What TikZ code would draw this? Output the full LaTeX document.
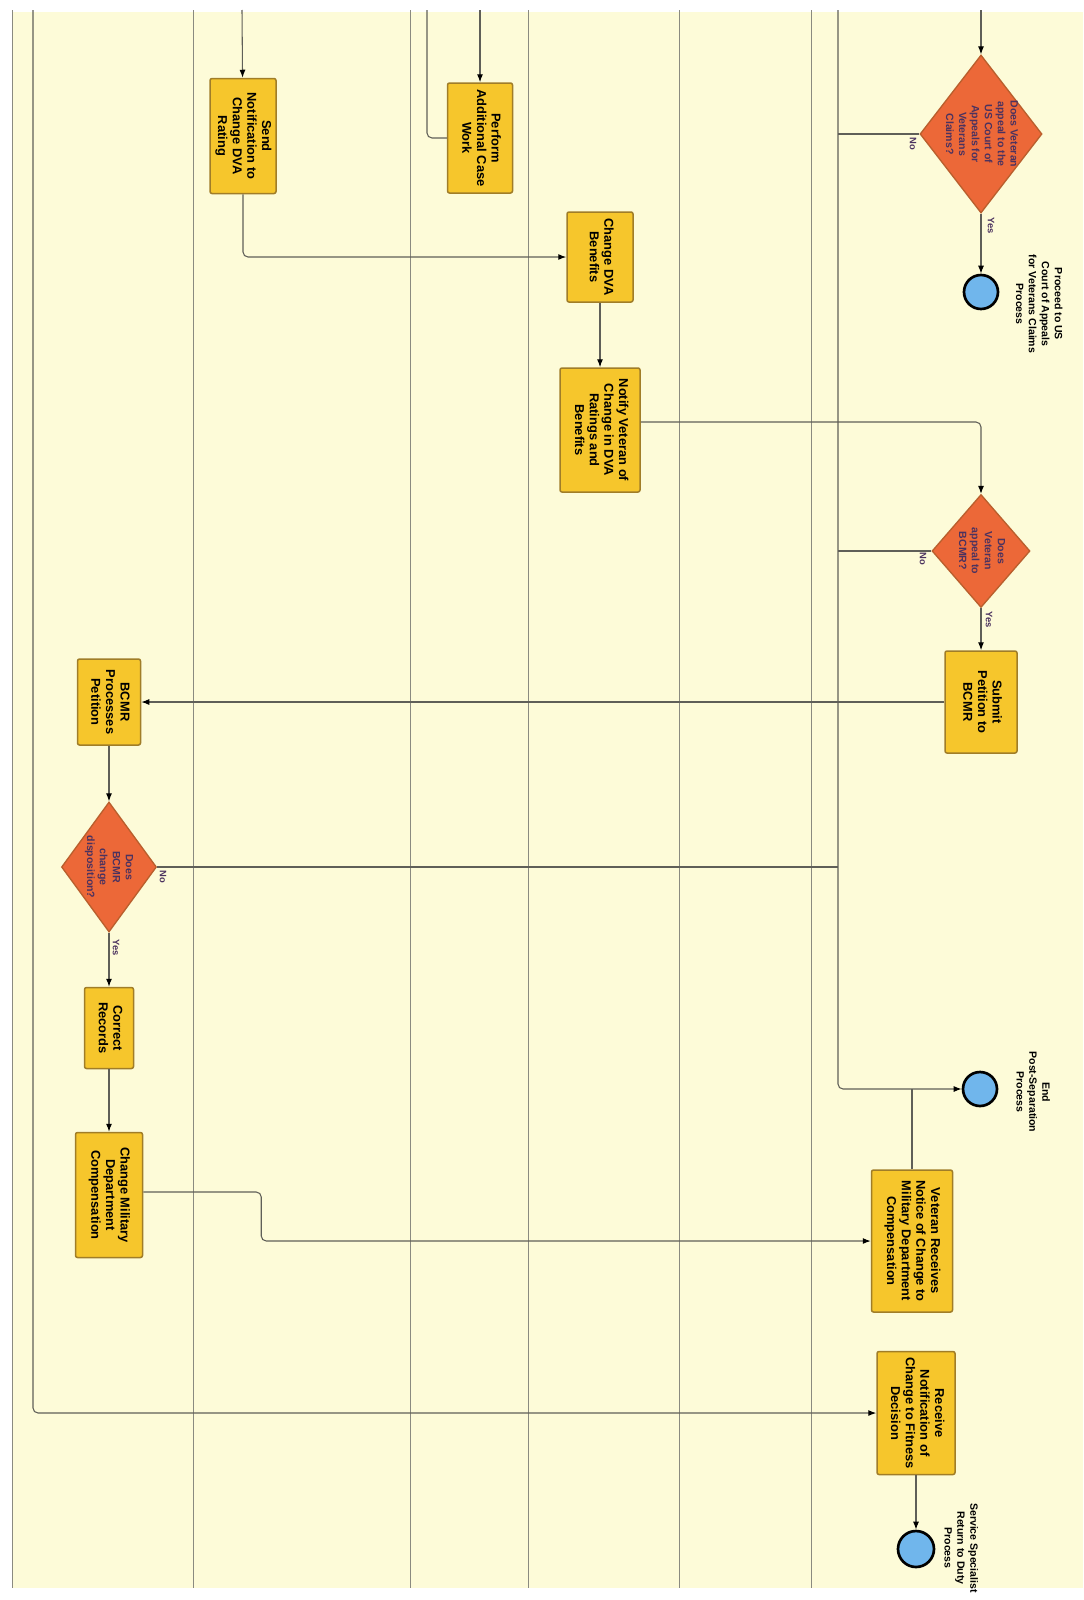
\documentclass[tikz,border=0pt]{standalone}
\usepackage{fontspec}
\setmainfont{Liberation Sans}
\usepackage{graphicx}
\usetikzlibrary{arrows.meta, shapes.geometric, positioning}
\definecolor{paperyellow}{RGB}{253,251,216}
\definecolor{taskgold}{RGB}{246,198,44}
\definecolor{taskedge}{RGB}{160,125,40}
\definecolor{gateorange}{RGB}{236,104,56}
\definecolor{gateedge}{RGB}{185,95,45}
\definecolor{gatetext}{RGB}{75,50,95}
\definecolor{eventblue}{RGB}{112,182,236}
\definecolor{flowgray}{RGB}{95,95,88}
\definecolor{lanegray}{RGB}{138,138,128}

\newcommand{\vtext}[1]{\rotatebox{-90}{\begin{tabular}{@{}c@{}}#1\end{tabular}}}

\tikzset{
  task/.style={draw=taskedge, fill=taskgold, line width=0.45mm, rounded corners=0.6mm,
    inner sep=0pt, font=\fontsize{11}{12.5}\selectfont\bfseries},
  gate/.style={shape=diamond, draw=gateedge, fill=gateorange, line width=0.4mm, inner sep=0pt},
  gatetxt/.style={text=gatetext, inner sep=0pt, font=\fontsize{9}{11}\selectfont\bfseries},
  event/.style={circle, draw=black, fill=eventblue, line width=0.8mm, minimum size=10.2mm, inner sep=0pt},
  evlabel/.style={inner sep=0pt, font=\fontsize{9}{11}\selectfont\bfseries},
  answer/.style={text=gatetext, inner sep=0pt, font=\fontsize{8}{9}\selectfont\bfseries},
  flow/.style={draw=flowgray, line width=0.32mm, rounded corners=1.5mm,
    -{Latex[length=2.4mm,width=1.8mm,color=black]}},
  link/.style={draw=flowgray, line width=0.32mm, rounded corners=1.5mm},
  lane/.style={draw=lanegray, line width=0.25mm},
}

\begin{document}
\begin{tikzpicture}[x=0.3mm, y=-0.3mm]
  \useasboundingbox (0,0) rectangle (1083,1600);
  \fill[paperyellow] (12,12) rectangle (1083,1588);
  % lanes
  \foreach \x in {12,193,410,528,679,811}
    \draw[lane] (\x,10) -- (\x,1588);
  % off-page entries
  \coordinate (inrecv) at (33,10);
  \coordinate (insend) at (242,10);
  \coordinate (outperf) at (427,10);
  \coordinate (inperf) at (480,10);
  \coordinate (inpost) at (838,10);
  \coordinate (incourt) at (981,10);

  % tasks
  \node[task, minimum width=19.8mm, minimum height=34.5mm] (sendnote) at (243,136)
    {\vtext{Send\\Notification to\\Change DVA\\Rating}};
  \node[task, minimum width=19.5mm, minimum height=33mm] (perform) at (480,138)
    {\vtext{Perform\\Additional Case\\Work}};
  \node[task, minimum width=19.8mm, minimum height=27mm] (changeben) at (600,257)
    {\vtext{Change DVA\\Benefits}};
  \node[task, minimum width=24mm, minimum height=37.2mm] (notifyvet) at (600,430)
    {\vtext{Notify Veteran of\\Change in DVA\\Ratings and\\Benefits}};
  \node[task, minimum width=21.6mm, minimum height=30.6mm] (submitpet) at (981,702)
    {\vtext{Submit\\Petition to\\BCMR}};
  \node[task, minimum width=18.9mm, minimum height=25.8mm] (bcmrproc) at (109,702)
    {\vtext{BCMR\\Processes\\Petition}};
  \node[task, minimum width=14.7mm, minimum height=24.3mm] (correctrec) at (109,1028)
    {\vtext{Correct\\Records}};
  \node[task, minimum width=20.1mm, minimum height=37.5mm] (changecomp) at (109,1195)
    {\vtext{Change Military\\Department\\Compensation}};
  \node[task, minimum width=24.3mm, minimum height=42.6mm] (vetnotice) at (912,1241)
    {\vtext{Veteran Receives\\Notice of Change to\\Military Department\\Compensation}};
  \node[task, minimum width=23.4mm, minimum height=36.9mm] (recvnote) at (916,1413)
    {\vtext{Receive\\Notification of\\Change to Fitness\\Decision}};

  % decisions
  \node[gate, minimum width=36.6mm, minimum height=47.4mm] (appealcourt) at (981,134) {};
  \node[gatetxt] at (appealcourt)
    {\vtext{Does Veteran\\appeal to the\\US Court of\\Appeals for\\Veterans\\Claims?}};
  \node[gate, minimum width=29.4mm, minimum height=33.9mm] (appealbcmr) at (981,551) {};
  \node[gatetxt] at (appealbcmr) {\vtext{Does\\Veteran\\appeal to\\BCMR?}};
  \node[gate, minimum width=28.5mm, minimum height=39mm] (bcmrchange) at (109,867) {};
  \node[gatetxt] at (bcmrchange) {\vtext{Does\\BCMR\\change\\disposition?}};

  % end events
  \node[event] (endcourt) at (981,292) {};
  \node[evlabel] (endcourtlbl) at (1038,304)
    {\vtext{Proceed to US\\Court of Appeals\\for Veterans Claims\\Process}};
  \node[event] (endpost) at (980,1089) {};
  \node[evlabel] (endpostlbl) at (1032,1092) {\vtext{End\\Post-Separation\\Process}};
  \node[event, minimum size=10.8mm] (enddutyret) at (916,1549) {};
  \node[evlabel] (enddutyretlbl) at (960,1548)
    {\vtext{Service Specialist\\Return to Duty\\Process}};

  % answers
  \node[answer] (nocourt) at (912,144) {\vtext{No}};
  \node[answer] (yescourt) at (990,226) {\vtext{Yes}};
  \node[answer] (nobcmr) at (922,559) {\vtext{No}};
  \node[answer] (yesbcmr) at (988,620) {\vtext{Yes}};
  \node[answer] (nochange) at (162,877) {\vtext{No}};
  \node[answer] (yeschange) at (115,948) {\vtext{Yes}};

  % connectors
  \draw[flow] (insend) -- (sendnote);
  \draw[flow] (inperf) -- (perform);
  \draw[link] (outperf) |- (perform.west);
  \draw[flow] (sendnote.south) |- (changeben.west);
  \draw[flow] (changeben) -- (notifyvet);
  \draw[flow] ([yshift=2.4mm]notifyvet.east) -| (appealbcmr.north);
  \draw[flow] (incourt) -- (appealcourt.north);
  \draw[flow] (appealcourt.south) -- (endcourt);
  \draw[link] (appealcourt.west) -- (appealcourt.west -| inpost);
  \draw[link] (appealbcmr.west) -- (appealbcmr.west -| inpost);
  \draw[link] (bcmrchange.east) -- (bcmrchange.east -| inpost);
  \draw[flow] (inpost) |- (endpost.west);
  \draw[flow] (appealbcmr.south) -- (submitpet.north);
  \draw[flow] (submitpet.west) -- (bcmrproc.east);
  \draw[flow] (bcmrproc) -- (bcmrchange.north);
  \draw[flow] (bcmrchange.south) -- (correctrec);
  \draw[flow] (correctrec) -- (changecomp);
  \draw[flow] ([yshift=0.9mm]changecomp.east) -- ++(118,0) |- (vetnotice.west);
  \draw[link] (vetnotice.north) -- (vetnotice.north |- endpost.west);
  \draw[flow] (inrecv) |- (recvnote.west);
  \draw[flow] (recvnote) -- (enddutyret);
\end{tikzpicture}
\end{document}
